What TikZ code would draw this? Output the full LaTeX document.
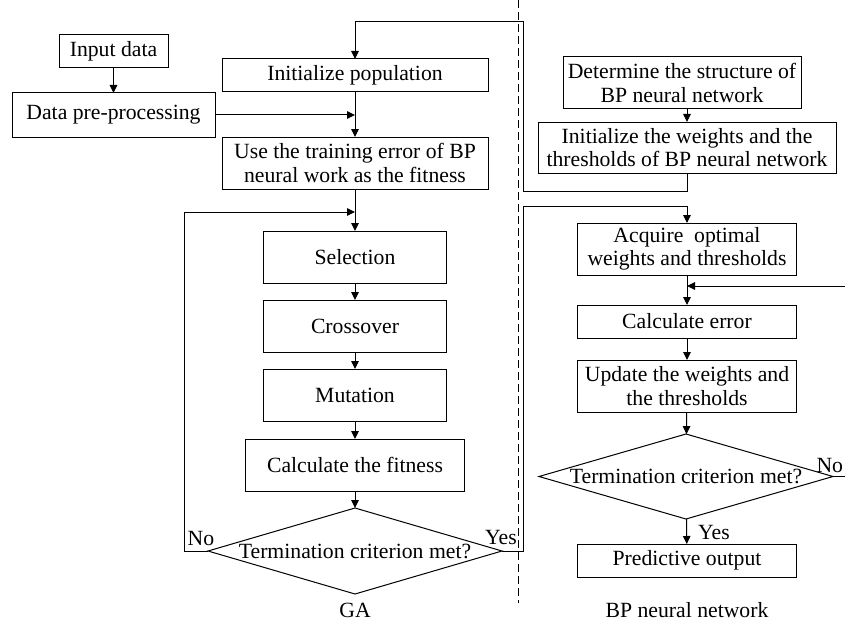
\documentclass[tikz,border=0pt]{standalone}
\usepackage{fontspec}
\setmainfont{Liberation Serif}
\usetikzlibrary{arrows.meta,shapes.geometric}

\begin{document}
\begin{tikzpicture}[x=1pt, y=-1pt,
    font=\fontsize{21.7}{23.5}\selectfont,
    line width=1pt,
    box/.style={rectangle, draw, align=center,
                inner sep=0pt, outer sep=0pt},
    decision/.style={diamond, draw, inner sep=0pt, outer sep=0pt,
                minimum width=294pt, minimum height=86pt},
    lbl/.style={anchor=base, inner sep=0pt},
    arr/.style={-{Triangle[length=8pt,width=7.5pt]}},
    ]
\useasboundingbox (0,0) rectangle (845,623);
\clip (0,0) rectangle (845,623);
% GA
\node[box, minimum width=109pt, minimum height=33pt] (input)   at (113.5,51.5) {Input data};
\node[box, minimum width=203pt, minimum height=44pt] (prep)    at (113.5,115)  {Data pre-processing};
\node[box, minimum width=266pt, minimum height=33pt] (initpop) at (355,75.5)   {Initialize population};
\node[box, minimum width=266pt, minimum height=52pt] (fitdef)  at (355,163)    {Use the training error of BP\\neural work as the fitness};
\node[box, minimum width=183pt, minimum height=52pt] (select)  at (355,257)    {Selection};
\node[box, minimum width=183pt, minimum height=52pt] (cross)   at (355,326)    {Crossover};
\node[box, minimum width=183pt, minimum height=52pt] (mutat)   at (355,395)    {Mutation};
\node[box, minimum width=219pt, minimum height=52pt] (calcfit) at (355,465)    {Calculate the fitness};
\node[decision] (gadec) at (355,551) {\makebox[0pt]{Termination criterion met?}};
\node[lbl] (gano)  at (201,545) {No};
\node[lbl] (gayes) at (501,544) {Yes};
\node[lbl] (ga)    at (355,617) {GA};
% BP neural network
\node[box, minimum width=238pt, minimum height=52pt] (struct)  at (682,83)     {Determine the structure of\\BP neural network};
\node[box, minimum width=298pt, minimum height=51pt] (initw)   at (687,147.5)  {Initialize the weights and the\\thresholds of BP neural network};
\node[box, minimum width=219pt, minimum height=52pt] (acquire) at (687,249)    {Acquire\ \ optimal\\weights and thresholds};
\node[box, minimum width=219pt, minimum height=33pt] (calcerr) at (687,321.5)  {Calculate error};
\node[box, minimum width=219pt, minimum height=52pt] (update)  at (687,386)    {Update the weights and\\the thresholds};
\node[decision, minimum height=85pt] (bpdec) at (686,476.5) {\makebox[0pt]{Termination criterion met?}};
\node[box, minimum width=219pt, minimum height=33pt] (predict) at (687,560.5)  {Predictive output};
\node[lbl] (bpyes) at (714,539) {Yes};
\node[lbl, anchor=base west] (bpno) at (816,472) {No};
\node[lbl] (bp) at (687,617) {BP neural network};
% separator
\draw[dash pattern=on 8pt off 4pt] (518,0) -- (518,603);
% connectors
\coordinate (gaj) at (355,212);
\coordinate (bpj) at (687,286);
\draw[arr] (input) -- (prep);
\draw[arr] (prep.east) -- (prep.east -| initpop.south);
\draw[arr] (initpop) -- (fitdef);
\draw[arr] (fitdef) -- (select);
\draw[arr] (select) -- (cross);
\draw[arr] (cross) -- (mutat);
\draw[arr] (mutat) -- (calcfit);
\draw[arr] (calcfit) -- (gadec);
\draw[arr] (gadec.west) -- ++(-24,0) |- (gaj);
\draw[arr] (initw.north |- struct.south) -- (initw.north);
\draw[arr] (initw.south) |- (523,191) -- (523,22) -| (initpop.north);
\draw[arr] (gadec.east) -| (523,206) -| (acquire.north);
\draw[arr] (acquire) -- (calcerr);
\draw[arr] (calcerr) -- (update);
\draw[arr] (update) -- (bpdec);
\draw[arr] (bpdec.east) -| (870,286) -- (bpj);
\draw[arr] (bpdec) -- (predict);
\end{tikzpicture}
\end{document}
